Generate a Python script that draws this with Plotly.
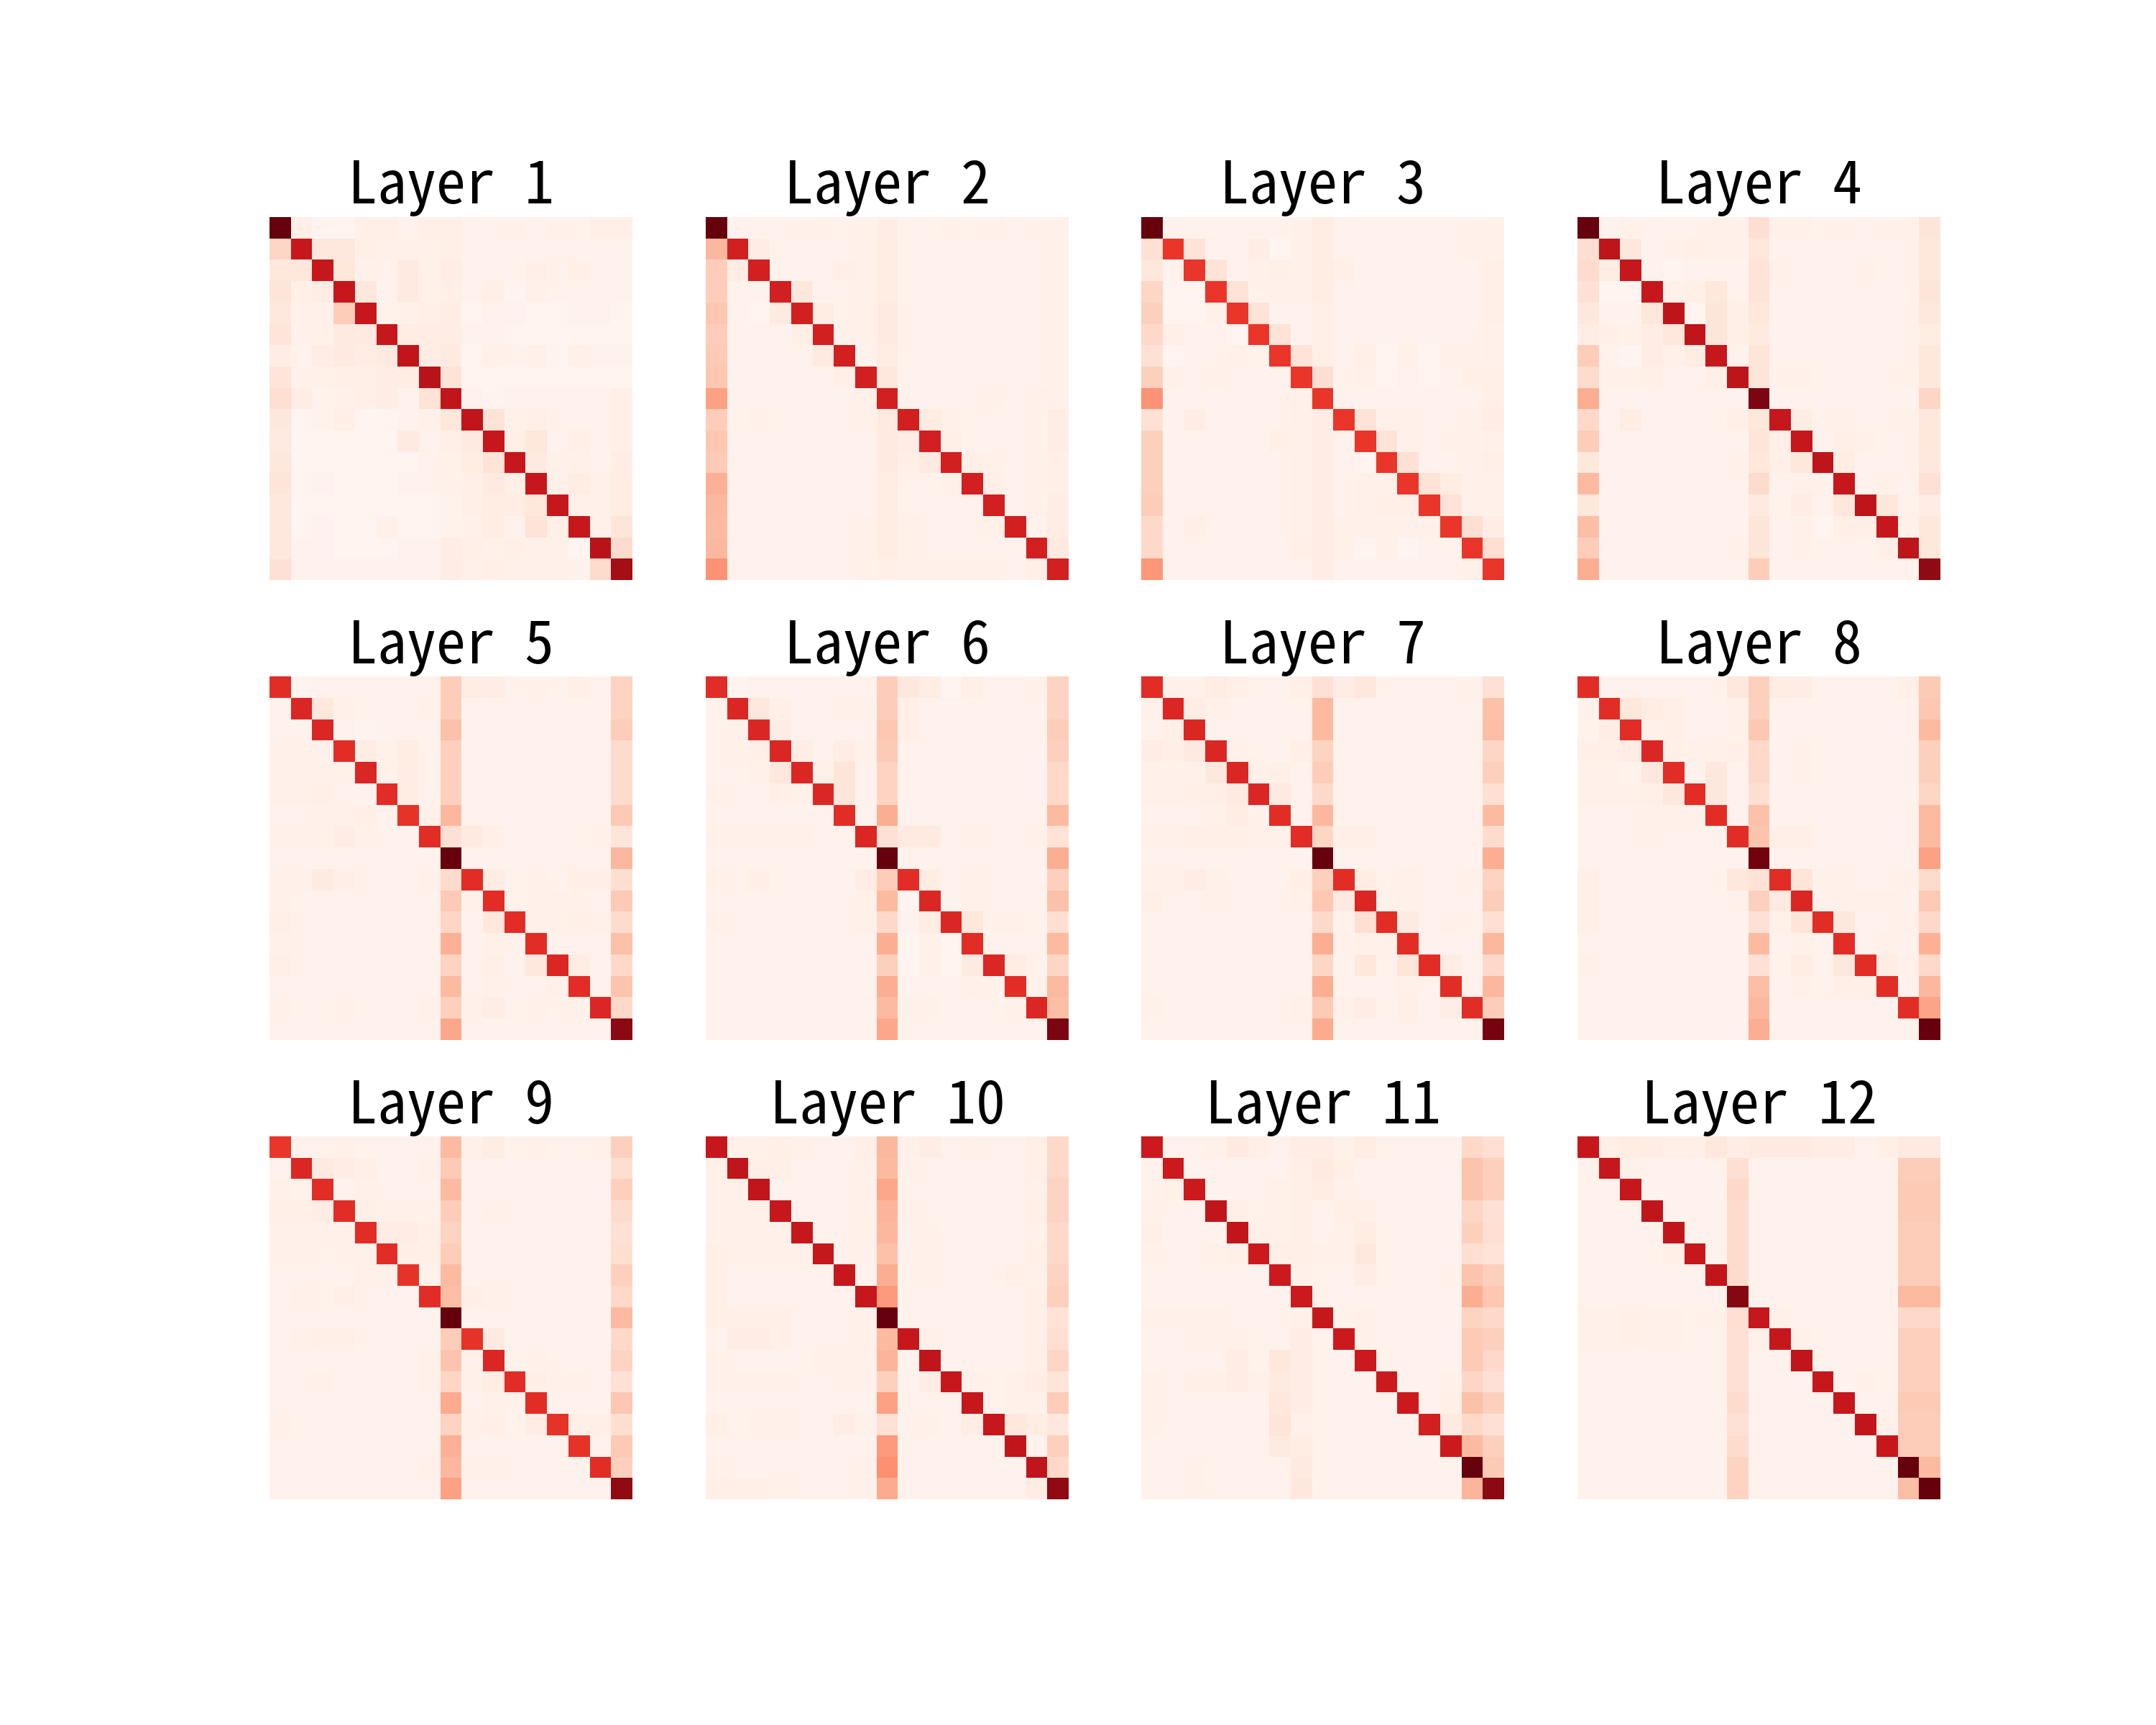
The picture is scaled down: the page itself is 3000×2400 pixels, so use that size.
import plotly.graph_objects as go

# Colour levels (0-100 on the Reds scale)
L1 = [
    [100,5,2,2,5,5,3,5,5,3,3,4,3,4,3,5,5],
    [17,77,9,9,5,4,4,4,5,3,3,3,3,3,3,3,3],
    [9,10,77,10,4,3,8,4,6,3,3,3,5,3,5,3,3],
    [11,5,7,77,9,3,8,4,5,3,5,2,4,3,3,3,3],
    [9,4,4,20,77,3,4,5,6,2,3,3,2,2,3,3,2],
    [11,4,4,8,8,77,7,6,6,3,3,2,2,2,2,2,2],
    [6,3,6,8,6,8,79,6,8,2,4,3,4,2,4,3,3],
    [11,4,4,5,5,6,7,82,12,2,2,2,2,2,2,2,2],
    [14,6,3,4,5,6,3,12,79,3,2,3,3,3,3,3,5],
    [9,2,3,5,2,2,3,4,10,79,12,4,5,3,3,3,5],
    [8,2,2,2,2,2,8,3,5,8,77,5,10,3,5,3,5],
    [9,2,2,2,2,2,2,3,4,7,12,77,8,4,4,3,6],
    [11,2,3,2,2,2,3,3,4,5,8,5,77,4,7,4,7],
    [9,2,2,2,2,2,2,2,3,5,7,6,10,77,4,4,7],
    [9,2,3,2,2,4,2,2,3,4,7,3,12,5,77,4,11],
    [9,3,3,2,2,2,3,3,6,5,4,5,4,4,2,82,15],
    [13,3,3,3,3,3,3,3,6,4,5,4,4,4,3,15,88],
]
L2 = [
    [100,3,3,3,4,4,3,4,6,3,3,4,3,4,3,4,4],
    [27,73,6,3,3,3,3,4,7,3,3,3,3,3,3,3,4],
    [20,7,73,3,3,3,5,4,7,3,3,3,3,3,3,3,4],
    [20,3,3,73,9,3,3,4,7,3,3,3,3,3,3,3,4],
    [22,3,2,8,73,7,3,4,8,3,3,3,3,3,3,3,4],
    [20,3,3,3,5,73,3,4,8,3,3,3,3,3,3,3,4],
    [21,3,3,3,3,8,73,3,7,3,3,3,3,3,3,3,4],
    [22,3,3,3,3,3,5,73,9,3,3,3,3,3,3,3,4],
    [34,3,3,3,3,3,3,4,73,3,3,3,3,4,3,4,4],
    [20,3,4,3,3,3,3,4,8,73,7,4,3,3,3,4,6],
    [22,3,3,3,3,3,3,3,8,6,73,5,3,3,3,4,6],
    [21,3,3,3,3,3,3,3,8,5,8,73,5,4,3,4,5],
    [29,3,3,3,3,3,3,3,7,3,3,4,73,5,3,4,5],
    [27,3,3,3,3,3,3,3,7,3,3,3,3,73,3,4,6],
    [26,3,3,3,3,3,3,4,7,4,3,3,3,4,73,3,6],
    [27,3,3,3,3,3,3,4,7,4,3,3,3,3,3,73,8],
    [38,3,3,3,3,3,3,4,5,4,4,4,4,4,3,5,73],
]
L3 = [
    [100,3,3,3,3,3,3,4,7,3,3,3,3,3,3,4,4],
    [13,65,12,3,3,6,2,4,7,3,3,3,3,3,3,4,4],
    [10,3,65,12,3,4,5,4,6,5,3,3,3,3,3,3,5],
    [17,2,2,65,12,3,4,4,7,3,3,3,3,3,3,3,5],
    [19,2,2,4,65,12,3,3,5,3,3,3,3,3,3,3,5],
    [16,5,3,3,2,65,12,3,5,3,3,3,3,3,3,3,4],
    [13,2,3,3,4,3,65,12,5,3,5,2,4,2,4,3,4],
    [19,4,3,4,3,3,3,65,14,3,4,2,3,2,3,5,5],
    [38,3,3,3,3,3,3,4,65,3,3,3,3,3,3,3,5],
    [13,3,6,3,3,3,3,4,6,65,12,4,4,3,3,4,6],
    [19,3,3,3,3,3,5,4,6,3,65,12,4,3,4,3,4],
    [19,3,3,3,3,3,3,4,6,3,2,65,13,3,3,4,5],
    [19,3,3,3,3,3,3,4,6,3,4,4,65,12,7,4,4],
    [20,3,3,3,3,3,3,4,6,3,4,5,5,65,12,4,4],
    [16,3,5,3,3,3,3,4,6,4,4,4,4,4,65,14,6],
    [16,3,3,3,3,3,3,5,6,4,2,4,2,3,3,65,14],
    [37,3,3,3,3,3,3,3,6,3,3,3,3,3,3,4,65],
]
L4 = [
    [100,3,4,3,3,3,4,4,14,4,4,3,4,3,4,4,11],
    [14,80,9,3,4,5,4,4,10,3,3,3,3,3,3,3,10],
    [15,7,77,3,2,3,3,3,12,4,3,3,3,4,3,3,10],
    [13,2,2,77,4,5,10,3,12,3,3,3,3,3,3,3,11],
    [9,3,3,10,80,2,11,5,10,3,3,3,3,3,3,3,9],
    [6,5,4,6,9,79,11,5,8,3,3,3,3,3,3,3,7],
    [20,3,2,6,4,7,77,3,11,3,3,3,3,3,3,3,10],
    [15,4,4,5,3,3,5,80,11,4,4,3,3,3,3,4,10],
    [30,3,3,3,3,3,3,3,96,3,3,3,3,3,3,3,17],
    [16,3,6,3,3,3,3,5,10,77,6,3,4,3,3,4,10],
    [20,3,3,3,3,3,3,3,11,5,77,3,5,4,3,3,10],
    [10,3,3,3,3,3,3,4,10,5,10,80,7,3,3,3,9],
    [26,3,3,3,3,3,3,3,15,3,4,3,77,3,4,3,13],
    [10,3,3,3,3,3,3,3,8,3,6,3,9,80,10,3,6],
    [25,3,3,3,3,3,3,3,11,3,4,2,5,5,77,3,10],
    [20,3,3,3,3,3,3,4,11,3,4,3,3,3,5,80,10],
    [30,3,3,3,3,3,3,3,20,3,3,3,3,3,3,3,92],
]
L5 = [
    [68,2,3,3,3,3,3,3,20,7,6,3,4,3,5,3,18],
    [3,70,9,4,3,3,3,4,20,3,3,3,3,3,3,3,18],
    [3,3,70,3,2,3,3,3,24,3,3,3,3,3,3,3,20],
    [4,4,3,68,6,4,7,3,19,3,3,3,3,3,3,3,15],
    [4,4,4,4,70,4,6,3,19,3,3,3,3,3,3,3,15],
    [4,4,5,3,3,68,7,3,19,3,3,3,3,3,3,3,15],
    [3,3,4,4,5,3,66,4,27,3,3,3,3,3,3,3,21],
    [4,4,4,6,4,3,3,68,13,8,5,3,3,3,3,4,11],
    [3,3,3,3,3,3,3,3,100,3,3,3,3,3,3,3,27],
    [4,4,8,5,3,3,3,4,15,68,6,3,4,3,5,5,14],
    [4,3,3,3,3,3,3,3,21,4,68,3,4,4,4,3,21],
    [5,3,3,3,3,3,3,3,17,3,9,68,4,4,5,4,15],
    [4,3,3,3,3,3,3,3,29,3,4,3,68,3,3,3,24],
    [5,3,3,3,3,3,3,3,18,3,5,3,9,70,7,3,16],
    [3,3,3,3,3,3,3,3,26,3,4,3,3,4,68,3,23],
    [4,3,3,4,3,3,3,4,19,4,6,3,4,3,4,70,16],
    [3,3,3,3,3,3,3,3,32,3,3,3,3,3,3,3,93],
]
L6 = [
    [68,2,3,3,3,3,3,3,20,9,7,2,5,3,3,4,18],
    [3,70,9,5,3,3,4,4,20,5,3,3,3,3,3,3,18],
    [3,4,70,6,3,3,3,3,22,5,3,3,3,3,3,3,20],
    [3,4,5,70,6,3,6,4,21,3,3,3,3,3,3,3,19],
    [3,3,4,9,70,4,11,3,18,3,3,3,3,3,3,3,16],
    [4,3,3,5,4,70,11,3,18,3,3,3,3,3,3,3,16],
    [3,3,3,3,3,3,68,3,30,3,3,3,3,3,3,3,26],
    [4,4,4,4,4,3,3,70,13,8,8,3,4,3,3,4,12],
    [3,3,3,3,3,3,3,3,100,3,3,3,3,3,3,3,30],
    [4,3,5,3,3,3,3,6,20,68,7,3,4,3,3,3,19],
    [3,3,3,3,3,3,3,4,26,2,70,3,4,3,3,3,24],
    [4,3,3,3,3,3,3,4,16,3,7,70,10,4,4,3,14],
    [3,3,3,3,3,3,3,3,30,2,4,2,68,3,3,3,26],
    [3,3,3,3,3,3,3,3,19,2,4,2,8,70,7,3,17],
    [3,3,3,3,3,3,3,3,30,3,3,3,4,3,68,3,26],
    [3,3,3,3,3,3,3,3,26,4,4,3,3,3,4,70,25],
    [3,3,3,3,3,3,3,3,32,3,3,3,3,3,3,3,96],
]
L7 = [
    [68,4,4,7,5,3,3,5,13,6,9,3,3,3,3,4,13],
    [4,70,6,4,3,3,3,3,26,3,3,3,3,3,3,3,24],
    [3,5,70,3,3,3,3,3,26,3,3,3,3,3,3,3,25],
    [6,5,8,70,4,3,3,5,18,3,3,3,3,3,3,3,17],
    [4,4,4,9,70,4,5,3,20,3,3,3,3,3,3,3,19],
    [4,4,5,5,8,70,8,3,16,3,3,3,3,3,3,3,14],
    [3,3,3,4,6,3,68,3,27,3,3,3,3,3,3,3,26],
    [4,4,5,5,5,4,4,68,17,5,5,3,3,3,3,3,15],
    [3,3,3,3,3,3,3,3,100,3,3,3,3,3,3,3,30],
    [4,4,6,4,3,3,3,5,19,68,7,3,4,3,3,4,18],
    [5,3,3,4,3,3,3,4,22,8,70,3,4,3,3,3,20],
    [3,3,3,3,3,3,3,3,16,3,14,68,8,3,4,3,14],
    [3,3,3,3,3,3,3,3,30,3,4,4,68,3,3,3,27],
    [3,3,3,3,3,3,3,3,17,3,10,3,11,68,6,3,16],
    [3,3,3,3,3,3,3,3,30,3,3,3,4,3,68,3,27],
    [4,3,3,3,3,3,3,4,21,4,6,3,5,3,6,68,20],
    [3,3,3,3,3,3,3,3,31,3,3,3,3,3,3,3,97],
]
L8 = [
    [68,3,3,3,3,3,3,9,19,7,6,3,3,3,3,5,21],
    [3,68,10,7,5,3,3,4,19,3,3,3,3,3,3,3,22],
    [3,6,68,4,5,3,3,4,22,3,3,3,3,3,3,3,26],
    [5,5,6,70,5,4,4,5,16,3,4,3,3,3,3,3,19],
    [4,4,3,9,68,3,9,3,16,3,4,3,3,3,3,3,19],
    [4,4,4,5,9,68,9,3,14,3,3,3,3,3,3,3,17],
    [3,3,3,4,4,4,68,3,24,3,3,3,3,3,3,3,26],
    [3,3,3,4,3,3,3,68,23,5,5,3,3,3,3,3,26],
    [3,3,3,3,3,3,3,3,98,3,3,3,3,3,3,3,34],
    [5,3,3,3,3,3,3,10,12,68,11,4,4,3,3,4,15],
    [5,3,3,3,3,3,3,4,19,8,70,3,4,4,4,3,21],
    [5,3,3,3,3,3,3,3,13,4,11,68,9,3,3,4,16],
    [3,3,3,3,3,3,3,3,26,3,4,3,68,3,4,3,29],
    [4,3,3,3,3,3,3,3,13,3,7,3,9,68,7,4,16],
    [3,3,3,3,3,3,3,3,25,3,4,3,5,5,68,3,27],
    [3,3,3,3,3,3,3,3,27,3,3,3,3,3,3,68,33],
    [3,3,3,3,3,3,3,3,30,3,3,3,3,3,3,3,100],
]
L9 = [
    [65,3,3,4,3,3,3,3,26,4,7,3,4,3,3,4,19],
    [3,70,8,6,5,3,3,4,21,3,3,3,3,3,3,3,14],
    [4,3,68,3,4,3,3,3,26,3,3,3,3,3,3,3,19],
    [5,5,6,68,5,4,4,4,20,3,4,3,3,3,3,3,15],
    [4,4,4,4,68,6,6,5,18,3,3,3,3,3,3,3,13],
    [4,4,3,4,4,68,5,5,20,3,3,3,3,3,3,3,14],
    [3,3,3,3,4,4,66,3,26,3,3,3,3,3,3,3,19],
    [3,4,3,5,3,3,3,68,25,5,4,3,3,3,3,3,16],
    [3,3,3,3,3,3,3,3,100,3,3,3,3,3,3,3,26],
    [3,4,5,5,3,3,3,3,20,66,8,3,3,3,3,3,16],
    [3,3,3,3,3,3,3,4,23,4,70,3,4,3,3,3,18],
    [3,3,4,3,3,3,3,4,17,4,7,68,5,3,4,3,13],
    [3,3,3,3,3,3,3,3,31,3,4,3,68,3,3,3,22],
    [4,3,3,3,3,3,3,3,18,4,5,3,6,66,5,5,14],
    [3,3,3,3,3,3,3,3,29,3,3,3,3,3,66,3,21],
    [3,3,3,3,3,3,3,4,27,4,4,3,3,3,3,68,19],
    [3,3,3,3,3,3,3,3,34,3,3,3,3,3,3,3,92],
]
L10 = [
    [77,4,4,5,4,3,3,5,27,4,6,3,4,3,3,5,16],
    [4,79,5,5,3,3,3,4,26,4,3,3,3,3,3,5,16],
    [4,4,79,3,3,3,3,4,32,3,3,3,3,3,3,4,18],
    [4,4,4,77,3,3,3,4,28,4,3,3,3,3,3,5,18],
    [4,4,4,4,77,3,3,4,27,3,4,3,3,3,3,4,16],
    [5,4,4,4,4,77,3,4,24,3,4,3,3,3,3,5,16],
    [5,3,3,3,3,3,77,3,30,3,4,3,3,3,5,4,18],
    [5,3,3,3,3,3,3,77,36,3,3,3,3,3,3,5,19],
    [5,5,5,5,3,3,3,4,100,3,3,3,3,3,3,5,12],
    [3,6,6,5,3,3,3,4,26,77,4,3,3,3,3,5,14],
    [4,3,3,3,3,4,4,4,28,3,79,3,3,3,3,5,17],
    [4,4,4,4,3,3,4,4,19,3,6,77,4,3,4,6,11],
    [3,3,3,3,3,3,3,3,34,3,3,3,77,3,4,4,20],
    [5,3,4,4,3,3,6,4,13,3,4,3,6,77,10,7,9],
    [3,3,3,3,3,3,3,3,36,3,3,3,3,3,79,3,19],
    [4,3,3,3,3,3,3,4,39,3,3,3,3,3,3,79,16],
    [5,5,5,4,3,3,3,4,31,3,3,3,3,3,3,6,92],
]
L11 = [
    [75,3,3,4,8,5,3,6,6,4,7,3,3,3,3,16,14],
    [3,75,3,3,3,3,3,5,8,5,3,3,3,3,3,23,19],
    [3,4,75,3,3,3,4,5,7,4,3,3,3,3,3,23,19],
    [4,3,3,79,5,3,4,5,3,5,5,3,3,3,3,17,13],
    [5,3,3,3,79,4,4,5,3,4,7,3,3,3,3,19,14],
    [4,3,3,4,5,75,5,5,4,4,9,3,3,3,3,14,12],
    [3,3,3,3,3,3,75,4,3,3,6,3,3,3,4,23,19],
    [3,3,3,3,3,3,3,75,3,3,3,3,3,3,3,30,22],
    [4,4,4,4,3,3,3,4,77,3,4,3,3,3,3,18,16],
    [3,3,4,4,4,3,3,6,3,75,4,3,3,3,3,21,19],
    [3,3,3,3,6,3,10,6,3,3,75,3,3,3,3,21,16],
    [4,3,5,5,6,4,8,6,3,3,3,75,3,3,4,17,13],
    [4,3,3,3,3,3,9,6,3,3,3,3,75,3,5,24,19],
    [4,3,3,3,3,3,11,4,3,3,3,3,3,73,8,16,13],
    [3,3,3,3,3,3,8,7,3,3,3,3,3,3,75,26,19],
    [3,3,4,3,3,3,3,8,3,3,3,3,3,3,3,100,21],
    [3,3,4,3,3,3,3,9,3,3,3,3,3,3,3,28,93],
]
L12 = [
    [77,5,7,6,5,5,9,6,8,8,8,6,6,3,5,8,8],
    [3,77,4,3,3,3,3,14,3,3,3,3,3,3,3,20,20],
    [3,3,77,3,3,3,3,16,3,3,3,3,3,3,3,21,21],
    [3,3,3,79,3,3,3,15,3,3,3,3,3,3,3,21,21],
    [3,3,3,3,79,3,3,15,3,3,3,3,3,3,3,20,20],
    [3,3,3,3,5,77,3,15,3,3,3,3,3,3,3,20,20],
    [3,3,3,3,3,3,79,15,3,3,3,3,3,3,3,20,20],
    [3,3,3,3,3,3,3,94,3,3,3,3,3,3,3,26,26],
    [4,4,5,4,4,3,4,14,77,4,3,3,3,3,3,16,16],
    [4,4,5,4,4,3,3,13,4,77,4,3,3,3,3,19,19],
    [3,3,3,3,3,3,3,13,3,3,79,3,3,3,3,19,19],
    [3,3,3,3,3,3,3,13,3,3,3,77,3,4,3,19,19],
    [3,3,3,3,3,3,3,15,3,3,3,3,77,3,3,21,21],
    [3,3,3,3,3,3,3,13,3,3,3,3,3,79,4,20,20],
    [3,3,3,3,3,3,3,15,3,3,3,3,3,3,77,20,20],
    [3,3,3,3,3,3,3,18,3,3,3,3,3,3,3,100,26],
    [3,3,3,3,3,3,3,18,3,3,3,3,3,3,3,25,100],
]

layers = [L1, L2, L3, L4, L5, L6, L7, L8, L9, L10, L11, L12]
titles = ["Layer %d" % (i + 1) for i in range(12)]
tokens = list(range(17))

reds = [
    [0.0, "#fff5f0"], [0.125, "#fee0d2"], [0.25, "#fcbba1"], [0.375, "#fc9272"],
    [0.5, "#fb6a4a"], [0.625, "#ef3b2c"], [0.75, "#cb181d"], [0.875, "#a50f15"],
    [1.0, "#67000d"],
]

W, H = 3000, 2400
col_px = [(375, 880), (982, 1487), (1588, 2093), (2195, 2700)]
row_px = [(302, 807), (941, 1447), (1581, 2086)]

fig = go.Figure()
layout = dict(
    width=W, height=H, margin=dict(l=0, r=0, t=0, b=0),
    paper_bgcolor="white", plot_bgcolor="white", showlegend=False,
)
annotations = []
for i, z in enumerate(layers):
    r, c = divmod(i, 4)
    n = i + 1
    xa = "x" if n == 1 else "x%d" % n
    ya = "y" if n == 1 else "y%d" % n
    fig.add_trace(go.Heatmap(
        z=z, x=tokens, y=tokens, colorscale=reds, zmin=1.5, zmax=100,
        showscale=False, xaxis=xa, yaxis=ya, hoverinfo="skip",
    ))
    x0, x1 = col_px[c]
    y0, y1 = row_px[r]
    kx = "xaxis" if n == 1 else "xaxis%d" % n
    ky = "yaxis" if n == 1 else "yaxis%d" % n
    layout[kx] = dict(domain=[x0 / W, x1 / W], anchor=ya, visible=False,
                      range=[-0.5, 16.5], showgrid=False, zeroline=False)
    layout[ky] = dict(domain=[1 - y1 / H, 1 - y0 / H], anchor=xa, visible=False,
                      range=[16.5, -0.5], showgrid=False, zeroline=False)
    annotations.append(dict(
        text=titles[i], xref="paper", yref="paper",
        x=(x0 + x1) / 2 / W, y=1 - (y0 - 54) / H,
        xanchor="center", yanchor="middle", showarrow=False,
        font=dict(family="Noto Sans Mono CJK JP, DejaVu Sans Mono, monospace",
                  size=82, color="black"),
    ))
layout["annotations"] = annotations
fig.update_layout(**layout)
fig.write_html("out.html")
